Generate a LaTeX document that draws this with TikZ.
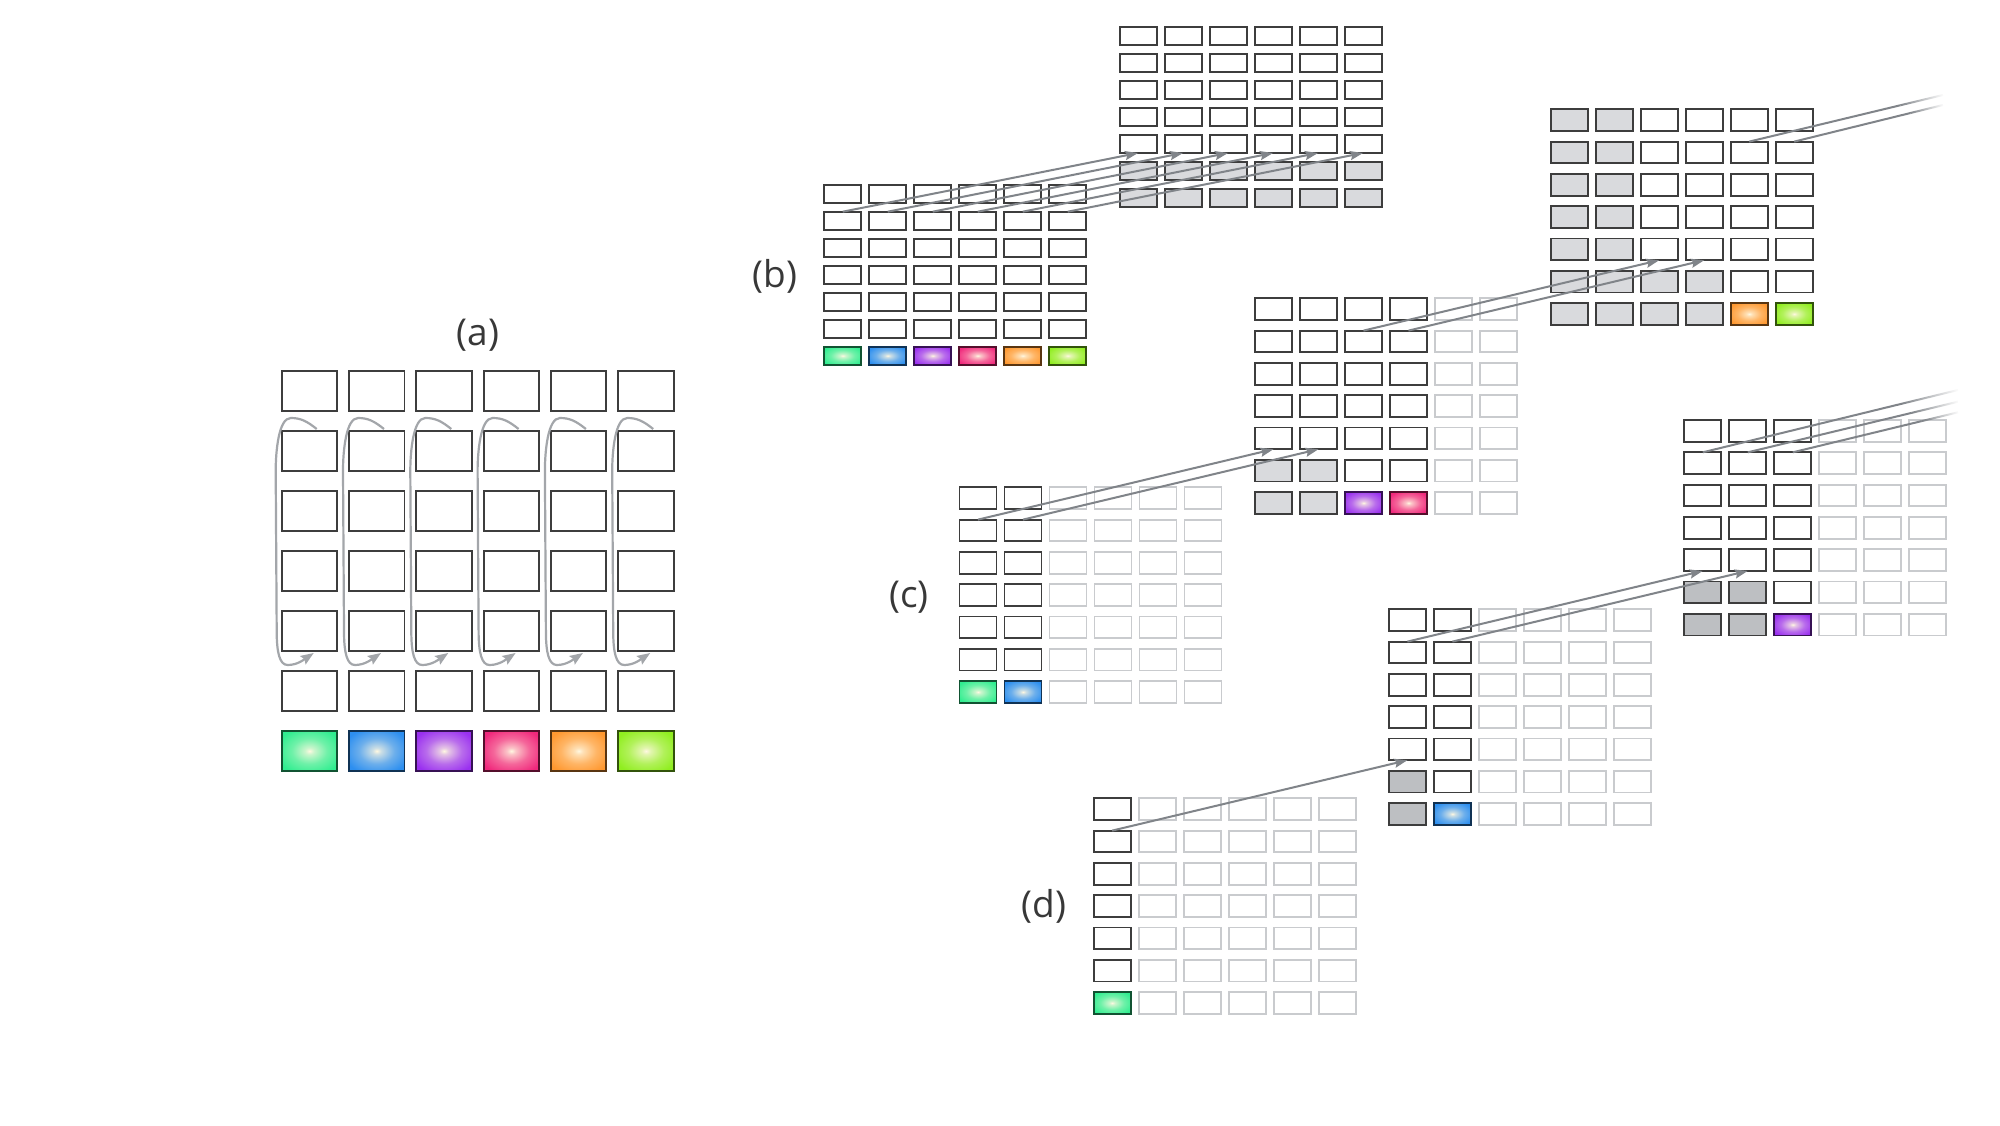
\documentclass[tikz,border=0pt]{standalone}
\usepackage{fontspec}
\setmainfont{Open Sans}
\usetikzlibrary{arrows.meta,fadings,calc}
\definecolor{cdark}{HTML}{3D3D3D}
\definecolor{clight}{HTML}{C9CBCE}
\definecolor{cgray}{HTML}{D9DADD}
\definecolor{cgrayb}{HTML}{BDBFC2}
\definecolor{cconn}{HTML}{808489}
\definecolor{ccurve}{HTML}{A3A6AA}
\definecolor{ctext}{HTML}{383838}
\definecolor{cin}{HTML}{FFF8E1}
\definecolor{kA}{HTML}{30EE90}
\definecolor{kB}{HTML}{2D8FF0}
\definecolor{kC}{HTML}{9A30F0}
\definecolor{kD}{HTML}{F0287C}
\definecolor{kE}{HTML}{FF9830}
\definecolor{kF}{HTML}{90EE20}
\newcommand\mkshade[2]{%
  \pgfdeclareradialshading{#1}{\pgfpoint{0bp}{0bp}}{color(0bp)=(cin); color(4bp)=(cin!75!#2); color(16bp)=(cin!30!#2); color(30bp)=(#2); color(50bp)=(#2)}}
\mkshade{shA}{kA}
\mkshade{shB}{kB}
\mkshade{shC}{kC}
\mkshade{shD}{kD}
\mkshade{shE}{kE}
\mkshade{shF}{kF}
\tikzset{
  cellbase/.style={rectangle, inner sep=0pt, outer sep=0pt, anchor=north west, line width=1.9pt},
  dcell/.style={cellbase, draw=cdark, fill=white},
  lcell/.style={cellbase, draw=clight, fill=white},
  gcell/.style={cellbase, draw=cdark, fill=cgray},
  hcell/.style={cellbase, draw=cdark, fill=cgrayb},
  col1/.style={cellbase, draw=kA!35!black, shading=shA},
  col2/.style={cellbase, draw=kB!35!black, shading=shB},
  col3/.style={cellbase, draw=kC!35!black, shading=shC},
  col4/.style={cellbase, draw=kD!35!black, shading=shD},
  col5/.style={cellbase, draw=kE!35!black, shading=shE},
  col6/.style={cellbase, draw=kF!35!black, shading=shF},
  conn/.style={draw=cconn, line width=2pt, -{Stealth[length=13pt,width=9pt,inset=2pt]}},
  exitline/.style={draw=cconn, line width=2pt},
  loopc/.style={draw=ccurve, line width=2.2pt, -{Stealth[length=13pt,width=10pt,inset=2pt]}},
  lbl/.style={text=ctext, font=\fontsize{37}{44}\selectfont, inner sep=0pt},
}
% grid: name, x0, y0, w, h, dx, dy, style macro
\newcommand\mkgrid[8]{%
  \foreach \r in {1,...,7}{%
    \foreach \c in {1,...,6}{%
      #8\r\c
      \node[\sty, minimum width=#4pt, minimum height=#5pt] (#1-\r-\c) at ({#2+(\c-1)*#6},{#3+(\r-1)*#7}) {};
    }}}
\newcommand\stA[2]{\edef\sty{dcell}\ifnum#1=7 \edef\sty{col#2}\fi}
\newcommand\stBtwo[2]{\edef\sty{dcell}\ifnum#1>5 \edef\sty{gcell}\fi}
\newcommand\stBthree[2]{\edef\sty{dcell}%
  \ifnum#2<3 \edef\sty{gcell}\fi
  \ifnum#1>5 \ifnum#2<5 \edef\sty{gcell}\fi\fi
  \ifnum#1=7 \ifnum#2>4 \edef\sty{col#2}\fi\fi}
\newcommand\stCone[2]{\edef\sty{dcell}\ifnum#2>2 \edef\sty{lcell}\fi
  \ifnum#1=7 \ifnum#2<3 \edef\sty{col#2}\fi\fi}
\newcommand\stCtwo[2]{\edef\sty{dcell}\ifnum#2>4 \edef\sty{lcell}\fi
  \ifnum#1>5 \ifnum#2<3 \edef\sty{gcell}\fi\fi
  \ifnum#1=7 \ifnum#2>2 \ifnum#2<5 \edef\sty{col#2}\fi\fi\fi}
\newcommand\stCthree[2]{\edef\sty{dcell}\ifnum#2>3 \edef\sty{lcell}\fi
  \ifnum#1>5 \ifnum#2<3 \edef\sty{hcell}\fi\fi
  \ifnum#1=7 \ifnum#2=3 \edef\sty{col3}\fi\fi}
\newcommand\stDone[2]{\edef\sty{dcell}\ifnum#2>1 \edef\sty{lcell}\fi
  \ifnum#1=7 \ifnum#2=1 \edef\sty{col1}\fi\fi}
\newcommand\stDtwo[2]{\edef\sty{dcell}\ifnum#2>2 \edef\sty{lcell}\fi
  \ifnum#1>5 \ifnum#2=1 \edef\sty{hcell}\fi\fi
  \ifnum#1=7 \ifnum#2=2 \edef\sty{col2}\fi\fi}
\begin{document}
\begin{tikzpicture}[x=1pt,y=-1pt]
\useasboundingbox (0,0) rectangle (2000,1125);
\fill[white] (0,0) rectangle (2000,1125);

% grids
\mkgrid{a}{281.7}{371}{55.5}{40}{67.3}{60}{\stA}
\mkgrid{b1}{824.2}{184.7}{37}{18}{45}{27}{\stA}
\mkgrid{b2}{1119.6}{27}{37}{18}{45}{27}{\stBtwo}
\mkgrid{b3}{1550.7}{109.3}{37}{21.7}{45}{32.3}{\stBthree}
\mkgrid{c1}{959.5}{487.3}{37}{21.7}{45}{32.3}{\stCone}
\mkgrid{c2}{1255}{298.3}{37}{21.7}{45}{32.3}{\stCtwo}
\mkgrid{c3}{1684.3}{420}{37}{21.7}{45}{32.3}{\stCthree}
\mkgrid{d1}{1093.6}{798.3}{37}{21.7}{45}{32.3}{\stDone}
\mkgrid{d2}{1388.9}{609.3}{37}{21.7}{45}{32.3}{\stDtwo}

% labels
\node[lbl] (la) at (478,335) {(a)};
\node[lbl] (lb) at (775,276) {(b)};
\node[lbl] (lc) at (909,597) {(c)};
\node[lbl] (ld) at (1044,906) {(d)};

% (a) loops
\foreach \c in {1,...,6}{
  \draw[loopc] ([shift={(35,-2)}]a-2-\c.north west)
    .. controls +(-10,-8) and +(10,0) .. ([shift={(9,-13)}]a-2-\c.north west)
    .. controls +(-12,0) and +(0,-20) .. ([shift={(-6,40)}]a-2-\c.north west)
    -- ([shift={(-5,200)}]a-2-\c.north west)
    .. controls +(0,22) and +(-8,0) .. ([shift={(6,234)}]a-2-\c.north west)
    .. controls +(10,0) and +(-9,6) .. ([shift={(32,222)}]a-2-\c.north west);
}

% connectors
\foreach \c in {1,...,6}{\draw[conn] (b1-2-\c.north) -- (b2-5-\c.south);}
\foreach \c in {1,2}{\draw[conn] (c1-2-\c.north) -- (c2-5-\c.south);}
\foreach \c in {3,4}{\draw[conn] (c2-2-\c.north) -- (b3-5-\c.south);}
\draw[conn] (d1-2-1.north) -- (d2-5-1.south);
\foreach \c in {1,2}{\draw[conn] (d2-2-\c.north) -- (c3-5-\c.south);}

% exit lines fading out
\coordinate (eb5) at (1943,95);
\coordinate (eb6) at (1943,105);
\coordinate (ec1) at (1958,390);
\coordinate (ec2) at (1958,401.7);
\coordinate (ec3) at (1958,412.3);
\foreach \s/\e in {b3-2-5/eb5, b3-2-6/eb6, c3-2-1/ec1, c3-2-2/ec2, c3-2-3/ec3}{
  \draw[exitline] (\s.north) -- ($(\s.north)!0.78!(\e)$);
  \draw[exitline, path fading=east] ($(\s.north)!0.78!(\e)$) -- (\e);
}
\end{tikzpicture}
\end{document}
